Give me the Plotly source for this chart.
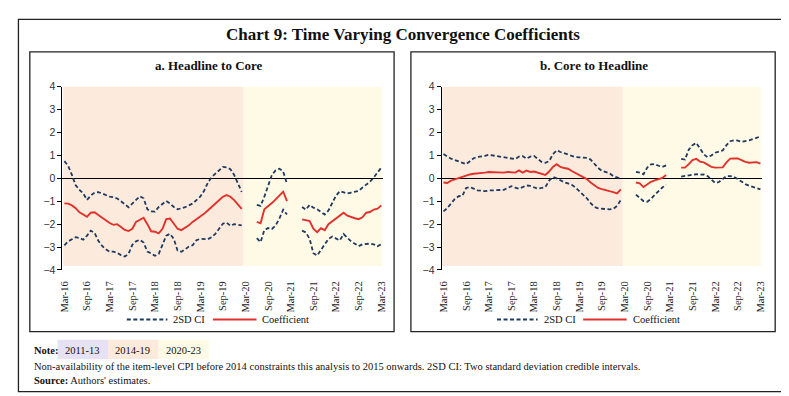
import plotly.graph_objects as go

W, H = 789, 396

# Months Mar-16 .. Mar-23 (85 monthly points); gaps where data unavailable
tick_labels = ["Mar-16", "Sep-16", "Mar-17", "Sep-17", "Mar-18", "Sep-18", "Mar-19",
               "Sep-19", "Mar-20", "Sep-20", "Mar-21", "Sep-21", "Mar-22", "Sep-22", "Mar-23"]
n_months = 85
gap_len = 3

# ---- Panel a: Headline to Core ----
a_coef_1 = [-1.09, -1.10, -1.18, -1.30, -1.48, -1.60, -1.68, -1.50, -1.48, -1.60, -1.72, -1.85,
            -1.95, -2.03, -2.00, -2.12, -2.25, -2.30, -2.20, -1.90, -1.80, -1.72, -2.00, -2.31,
            -2.33, -2.40, -2.20, -1.78, -1.75, -1.95, -2.20, -2.26, -2.15, -2.05, -1.90, -1.78,
            -1.70, -1.55, -1.40, -1.25, -1.10, -0.95, -0.80, -0.73, -0.80, -0.95, -1.12, -1.33]
a_coef_2 = [-1.90, -1.96, -1.35, -1.23, -1.08, -0.92, -0.75, -0.58, -0.99]
a_coef_3 = [-1.79, -1.82, -1.86, -2.20, -2.35, -2.17, -2.26, -2.00, -1.88, -1.75, -1.65,
            -1.50, -1.63, -1.70, -1.74, -1.78, -1.70, -1.50, -1.47, -1.36, -1.32, -1.18]

a_up_1 = [0.75, 0.55, 0.15, -0.30, -0.50, -0.66, -0.94, -0.75, -0.62, -0.60, -0.66, -0.72,
          -0.80, -0.82, -0.88, -1.00, -1.15, -1.26, -1.10, -0.95, -0.78, -0.87, -1.35, -1.44,
          -1.45, -1.25, -1.10, -0.99, -1.10, -1.25, -1.35, -1.32, -1.26, -1.18, -1.10, -0.95,
          -0.80, -0.55, -0.20, 0.05, 0.20, 0.32, 0.50, 0.48, 0.40, 0.15, -0.20, -0.59]
a_up_2 = [-1.16, -1.20, -0.80, -0.30, 0.15, 0.35, 0.42, 0.30, -0.24]
a_up_3 = [-1.25, -1.37, -1.16, -1.28, -1.35, -1.45, -1.58, -1.40, -1.05, -0.75, -0.56,
          -0.60, -0.66, -0.62, -0.58, -0.55, -0.40, -0.28, -0.15, 0.04, 0.25, 0.47]

a_lo_1 = [-2.92, -2.75, -2.66, -2.57, -2.60, -2.68, -2.50, -2.28, -2.38, -2.72, -2.95, -3.10,
          -3.20, -3.20, -3.25, -3.35, -3.41, -3.30, -2.90, -2.75, -2.68, -2.80, -3.20, -3.27,
          -3.38, -3.30, -2.90, -2.50, -2.42, -2.64, -3.15, -3.20, -3.10, -2.98, -2.92, -2.70,
          -2.64, -2.66, -2.66, -2.57, -2.42, -2.20, -1.98, -1.93, -2.07, -2.00, -2.02, -2.05]
a_lo_2 = [-2.61, -2.78, -2.26, -2.17, -2.21, -2.05, -1.75, -1.37, -1.58]
a_lo_3 = [-2.28, -2.36, -2.64, -3.27, -3.37, -3.13, -2.92, -2.64, -2.54, -2.64, -2.71,
          -2.43, -2.60, -2.75, -2.85, -2.96, -2.88, -2.85, -2.85, -2.88, -2.96, -2.88]

# ---- Panel b: Core to Headline ----
b_coef_1 = [-0.18, -0.20, -0.10, -0.04, 0.00, 0.05, 0.12, 0.17, 0.20, 0.21, 0.22, 0.25,
            0.28, 0.27, 0.25, 0.24, 0.25, 0.28, 0.25, 0.25, 0.35, 0.25, 0.34, 0.28,
            0.30, 0.26, 0.20, 0.15, 0.30, 0.50, 0.62, 0.50, 0.45, 0.42, 0.32, 0.24,
            0.15, 0.08, -0.03, -0.18, -0.32, -0.42, -0.47, -0.53, -0.56, -0.60, -0.66, -0.48]
b_coef_2 = [-0.18, -0.22, -0.38, -0.25, -0.15, -0.09, -0.03, 0.02, 0.15]
b_coef_3 = [0.47, 0.47, 0.62, 0.80, 0.85, 0.73, 0.70, 0.60, 0.50, 0.47, 0.47,
            0.48, 0.70, 0.86, 0.87, 0.87, 0.80, 0.72, 0.68, 0.68, 0.71, 0.64]

b_up_1 = [1.06, 0.95, 0.86, 0.80, 0.74, 0.68, 0.62, 0.75, 0.88, 0.93, 0.95, 0.98,
          1.03, 1.00, 0.96, 0.94, 0.92, 0.88, 0.85, 0.84, 0.95, 0.97, 0.86, 0.95,
          0.98, 0.85, 0.72, 0.68, 0.75, 1.05, 1.22, 1.15, 1.08, 1.04, 0.98, 0.93,
          0.92, 0.91, 0.89, 0.82, 0.65, 0.45, 0.33, 0.28, 0.22, 0.10, 0.05, -0.02]
b_up_2 = [0.28, 0.25, 0.18, 0.47, 0.61, 0.62, 0.55, 0.50, 0.57]
b_up_3 = [0.85, 0.82, 1.25, 1.45, 1.55, 1.30, 1.05, 0.92, 1.00, 1.12, 1.18,
          1.22, 1.45, 1.62, 1.66, 1.65, 1.60, 1.62, 1.66, 1.71, 1.76, 1.83]

b_lo_1 = [-1.44, -1.30, -1.10, -0.90, -0.78, -0.76, -0.42, -0.38, -0.45, -0.52, -0.54, -0.56,
          -0.53, -0.52, -0.54, -0.53, -0.50, -0.42, -0.34, -0.40, -0.45, -0.38, -0.31, -0.33,
          -0.38, -0.45, -0.42, -0.38, -0.10, 0.06, 0.00, -0.10, -0.17, -0.22, -0.28, -0.40,
          -0.55, -0.72, -0.87, -1.08, -1.25, -1.31, -1.34, -1.34, -1.35, -1.33, -1.20, -0.94]
b_lo_2 = [-0.71, -0.87, -0.99, -1.02, -0.90, -0.72, -0.55, -0.40, -0.28]
b_lo_3 = [0.08, 0.11, 0.13, 0.16, 0.18, 0.16, 0.17, 0.10, -0.05, -0.20, -0.16,
          -0.02, 0.10, 0.10, 0.06, -0.03, -0.15, -0.25, -0.32, -0.38, -0.44, -0.48]

shade_split = 47.5  # boundary between 2014-19 and 2020-23 periods (month index)


def join(s1, s2, s3):
    gap = [None] * gap_len
    return s1 + gap + s2 + gap + s3


x_idx = list(range(n_months))

DASH_COLOR = "#1F3A60"
RED = "#E2312B"
PEACH = "#FCEBDD"
YELLOW = "#FFFAE6"
LAVENDER = "#E6E2F3"
SERIF = "Liberation Serif"

fig = go.Figure()

panels = [
    ("x", "y", (a_coef_1, a_coef_2, a_coef_3), (a_up_1, a_up_2, a_up_3), (a_lo_1, a_lo_2, a_lo_3)),
    ("x2", "y2", (b_coef_1, b_coef_2, b_coef_3), (b_up_1, b_up_2, b_up_3), (b_lo_1, b_lo_2, b_lo_3)),
]
for xa, ya, coef, up, lo in panels:
    for series in (up, lo):
        fig.add_trace(go.Scatter(x=x_idx, y=join(*series), xaxis=xa, yaxis=ya, mode="lines",
                                 line=dict(color=DASH_COLOR, width=1.8, dash="4px,2.5px"),
                                 connectgaps=False, showlegend=False, hoverinfo="skip"))
    fig.add_trace(go.Scatter(x=x_idx, y=join(*coef), xaxis=xa, yaxis=ya, mode="lines",
                             line=dict(color=RED, width=1.9), connectgaps=False,
                             showlegend=False, hoverinfo="skip"))

shapes = []
# shaded periods
for xr, yr in (("x", "y"), ("x2", "y2")):
    shapes.append(dict(type="rect", xref=xr, yref=yr, x0=-0.3, x1=shade_split, y0=-3.83, y1=4.05,
                       fillcolor=PEACH, line=dict(width=0), layer="below"))
    shapes.append(dict(type="rect", xref=xr, yref=yr, x0=shade_split, x1=84.2, y0=-3.83, y1=4.05,
                       fillcolor=YELLOW, line=dict(width=0), layer="below"))


def px_rect(x0, y0, x1, y1, **kw):
    return dict(type="rect", xref="paper", yref="paper",
                x0=x0 / W, x1=x1 / W, y0=1 - y1 / H, y1=1 - y0 / H, **kw)


def px_line(x0, y0, x1, y1, **kw):
    return dict(type="line", xref="paper", yref="paper",
                x0=x0 / W, x1=x1 / W, y0=1 - y0 / H, y1=1 - y1 / H, **kw)


# frames
shapes.append(px_rect(6.5, 5.5, 782, 389.5, line=dict(color="#222", width=1.3)))
shapes.append(px_rect(18, 39, 386, 327.5, line=dict(color="#222", width=1.3)))
shapes.append(px_rect(403, 39, 771, 327.5, line=dict(color="#222", width=1.3)))

# note colour boxes
shapes.append(px_rect(46, 336, 97, 356, fillcolor=LAVENDER, line=dict(width=0)))
shapes.append(px_rect(97, 336, 148, 356, fillcolor=PEACH, line=dict(width=0)))
shapes.append(px_rect(148, 336, 199, 356, fillcolor=YELLOW, line=dict(width=0)))

annotations = []


def text(x, y, s, size, bold=False, anchor="center", family=SERIF, color="#111"):
    annotations.append(dict(xref="paper", yref="paper", x=x / W, y=1 - y / H, text=s,
                            showarrow=False, xanchor=anchor, yanchor="middle",
                            font=dict(family=family, size=size, color=color,
                                      weight="bold" if bold else "normal")))


text(395, 21, "Chart 9: Time Varying Convergence Coefficients", 17, bold=True)
text(199, 53, "a. Headline to Core", 13, bold=True)
text(588, 53, "b. Core to Headline", 13, bold=True)

# legends
for off in (0, 374):
    shapes.append(px_line(116 + off, 315, 157 + off, 315,
                          line=dict(color=DASH_COLOR, width=2, dash="4px,2.5px")))
    text(161 + off, 315, "2SD CI", 10.5, anchor="left")
    shapes.append(px_line(203 + off, 315, 247 + off, 315, line=dict(color=RED, width=2)))
    text(251 + off, 315, "Coefficient", 10.5, anchor="left")

# notes
text(20, 347, "Note:", 10.5, bold=True, anchor="left")
text(71, 347, "2011-13", 10.5)
text(122, 347, "2014-19", 10.5)
text(173, 347, "2020-23", 10.5)
text(20, 364, "Non-availability of the item-level CPI before 2014 constraints this analysis to 2015 onwards. "
              "2SD CI: Two standard deviation credible intervals.", 10.5, anchor="left")
text(20, 378, "<b>Source:</b> Authors' estimates.", 10.5, anchor="left")

xaxis_common = dict(range=[-0.5, 84.5], tickmode="array", tickvals=list(range(0, n_months, 6)),
                    ticktext=tick_labels, tickangle=-90, showgrid=False, zeroline=False,
                    showline=False, ticks="outside", ticklen=6, tickcolor="rgba(0,0,0,0)",
                    tickfont=dict(family=SERIF, size=10.5, color="#222"), fixedrange=True)
yaxis_common = dict(range=[-4, 4], tickvals=[-4, -3, -2, -1, 0, 1, 2, 3, 4],
                    showgrid=False, zeroline=True, zerolinecolor="#000", zerolinewidth=1,
                    showline=True, linecolor="#000", linewidth=1, ticks="outside",
                    ticklen=4, tickcolor="#000",
                    tickfont=dict(family="Liberation Sans", size=10.5, color="#333"))

y_dom = [1 - 264 / H, 1 - 75 / H]
fig.update_layout(
    width=W, height=H,
    margin=dict(l=0, r=0, t=0, b=0),
    paper_bgcolor="white", plot_bgcolor="rgba(0,0,0,0)",
    xaxis=dict(domain=[51 / W, 375 / W], anchor="y", **xaxis_common),
    yaxis=dict(domain=y_dom, anchor="x", **yaxis_common),
    xaxis2=dict(domain=[434 / W, 758 / W], anchor="y2", **xaxis_common),
    yaxis2=dict(domain=y_dom, anchor="x2", **yaxis_common),
    shapes=shapes,
    annotations=annotations,
    showlegend=False,
)

fig.write_html("out.html")
